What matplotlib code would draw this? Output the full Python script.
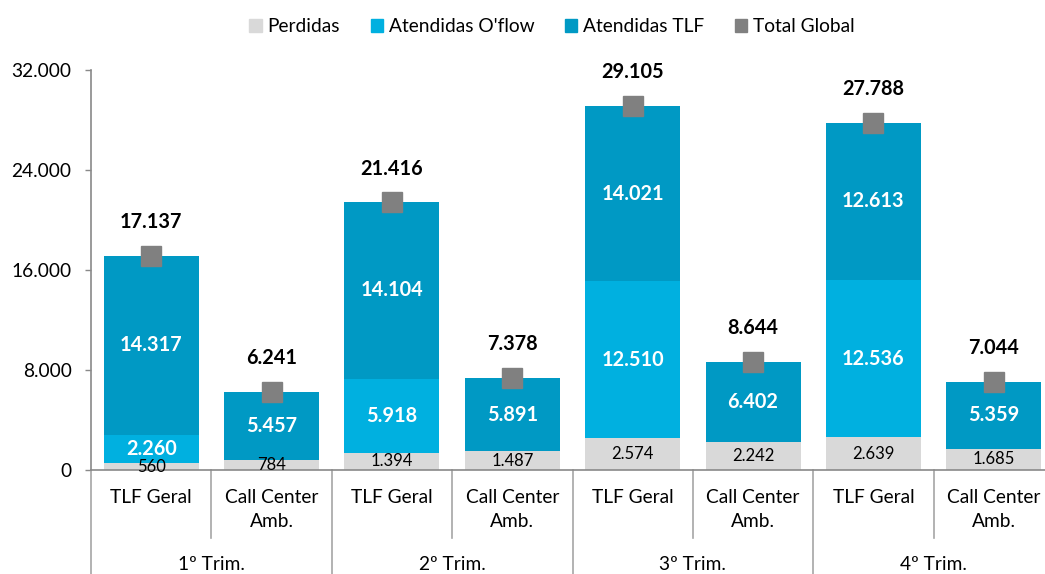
import matplotlib.pyplot as plt
import matplotlib.transforms as mtransforms
from matplotlib.lines import Line2D
from matplotlib.patches import Patch

plt.rcParams['font.family'] = ['Lato', 'DejaVu Sans']

# dados
categorias = ['TLF Geral', 'Call Center\nAmb.'] * 4
trimestres = ['1º Trim.', '2º Trim.', '3º Trim.', '4º Trim.']
perdidas = [560, 784, 1394, 1487, 2574, 2242, 2639, 1685]
oflow = [2260, 0, 5918, 0, 12510, 0, 12536, 0]
tlf = [14317, 5457, 14104, 5891, 14021, 6402, 12613, 5359]
total = [17137, 6241, 21416, 7378, 29105, 8644, 27788, 7044]

c_perd = '#D9D9D9'
c_oflow = '#00B0E0'
c_tlf = '#0099C4'
c_total = '#808080'


def fmt(v):
    return f'{v:,}'.replace(',', '.')


fig = plt.figure(figsize=(10.45, 5.74), dpi=100)
ax = fig.add_axes([91 / 1045, 104 / 574, 963 / 1045, 400 / 574])

x = list(range(len(categorias)))
w = 0.79
base2 = perdidas
base3 = [p + o for p, o in zip(perdidas, oflow)]
ax.bar(x, perdidas, w, color=c_perd, label='Perdidas')
ax.bar(x, oflow, w, bottom=base2, color=c_oflow, label="Atendidas O'flow")
ax.bar(x, tlf, w, bottom=base3, color=c_tlf, label='Atendidas TLF')
ax.plot(x, total, 's', color=c_total, markersize=14, linestyle='none', label='Total Global')

# rótulos
for i in x:
    ax.text(i, perdidas[i] / 2, fmt(perdidas[i]), ha='center', va='center', fontsize=12, color='black')
    if oflow[i] > 0:
        ax.text(i, base2[i] + oflow[i] / 2, fmt(oflow[i]), ha='center', va='center',
                fontsize=14.3, color='white', fontweight='bold')
    ax.text(i, base3[i] + tlf[i] / 2, fmt(tlf[i]), ha='center', va='center',
            fontsize=14.3, color='white', fontweight='bold')
    ax.text(i, total[i] + 2700, fmt(total[i]), ha='center', va='center',
            fontsize=14.3, color='black', fontweight='bold')

ax.set_xlim(-0.5, 7.5)
ax.set_ylim(0, 32000)
ax.set_yticks([0, 8000, 16000, 24000, 32000])
ax.set_yticklabels([fmt(v) for v in [0, 8000, 16000, 24000, 32000]])
ax.tick_params(axis='y', length=4, width=1, color='#898989', pad=10, labelsize=13.8)
ax.set_xticks([])
for s in ['top', 'right']:
    ax.spines[s].set_visible(False)
for s in ['left', 'bottom']:
    ax.spines[s].set_color('#898989')
    ax.spines[s].set_linewidth(1.2)

# eixo x em dois níveis
trans = mtransforms.blended_transform_factory(ax.transData, ax.transAxes)
for k in range(9):
    xb = k - 0.5
    y_end = -0.26 if k % 2 == 0 else -0.17
    ax.add_line(Line2D([xb, xb], [0, y_end], transform=trans, color='#A6A6A6',
                       lw=1.2, clip_on=False))
for i, c in enumerate(categorias):
    ax.text(i, -0.048, c, transform=trans, ha='center', va='top', fontsize=13.8,
            linespacing=1.5)
for g, t in enumerate(trimestres):
    ax.text(2 * g + 0.5, -0.235, t, transform=trans, ha='center', va='center', fontsize=13.8)

handles = [Patch(color=c_perd), Patch(color=c_oflow), Patch(color=c_tlf), Patch(color=c_total)]
labels = ['Perdidas', "Atendidas O'flow", 'Atendidas TLF', 'Total Global']
fig.legend(handles, labels, loc='center', bbox_to_anchor=(552 / 1045, 1 - 27 / 574), ncol=4,
           frameon=False, fontsize=13.8, handlelength=0.65, handleheight=0.65,
           handletextpad=0.3, columnspacing=1.6)

fig.savefig('out.png', dpi=100)
